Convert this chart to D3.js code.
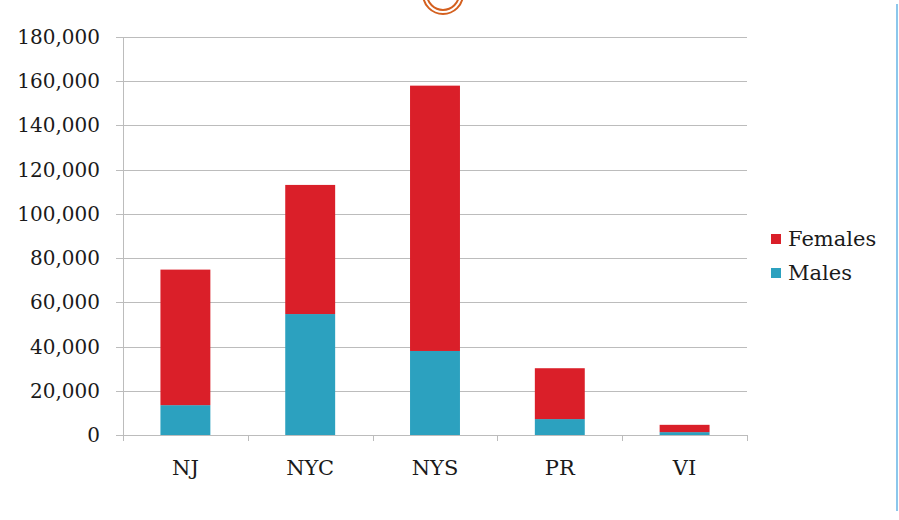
<!DOCTYPE html>
<html>
<head>
<meta charset="utf-8">
<script src="https://cdn.jsdelivr.net/npm/d3@7"></script>
<style>
  body { margin: 0; background: #fff; }
  svg { display: block; font-family: "DejaVu Serif", "Liberation Serif", serif; }
</style>
</head>
<body>
<div id="container"></div>
<script>
/**
 * DATA
 * */
const categories = ["NJ", "NYC", "NYS", "PR", "VI"];
const males = [13500, 54700, 38000, 7200, 1300];
const females = [61300, 58400, 120000, 23000, 3300];
const seriesNames = ["Males", "Females"];
const yTicks = [0, 20000, 40000, 60000, 80000, 100000, 120000, 140000, 160000, 180000];

const width = 899,
  height = 520,
  margin = { top: 37, bottom: 85, left: 123, right: 152 };

const colors = { Males: "#2ca1bf", Females: "#da1f29" };

const rows = categories.map((c, i) => ({ cat: c, Males: males[i], Females: females[i] }));
const stacked = d3.stack().keys(seriesNames)(rows);

const svg = d3.select("#container")
  .append("svg")
  .attr("width", width)
  .attr("height", height);

// decorations
svg.append("line")
  .attr("x1", 897).attr("x2", 897)
  .attr("y1", 4).attr("y2", 511)
  .attr("stroke", "#8cc7ec")
  .attr("stroke-width", 2);

const ring = svg.append("g").attr("transform", "translate(443,-6)");
ring.append("circle").attr("r", 20).attr("fill", "none").attr("stroke", "#d4601f").attr("stroke-width", 2);
ring.append("circle").attr("r", 16).attr("fill", "none").attr("stroke", "#d4601f").attr("stroke-width", 2);

const x = d3.scaleBand()
  .domain(categories)
  .range([margin.left, width - margin.right])
  .paddingInner(0.6)
  .paddingOuter(0.3);

const y = d3.scaleLinear()
  .domain([0, 180000])
  .range([height - margin.bottom, margin.top]);

// gridlines
svg.append("g")
  .selectAll("line")
  .data(yTicks)
  .join("line")
  .attr("x1", margin.left - 7)
  .attr("x2", width - margin.right)
  .attr("y1", d => Math.round(y(d)) + 0.5)
  .attr("y2", d => Math.round(y(d)) + 0.5)
  .attr("stroke", "#bcbcbc");

// y axis line
svg.append("line")
  .attr("x1", margin.left + 0.5).attr("x2", margin.left + 0.5)
  .attr("y1", y(180000)).attr("y2", y(0) + 0.5)
  .attr("stroke", "#bcbcbc");

// y labels
svg.append("g")
  .selectAll("text")
  .data(yTicks)
  .join("text")
  .attr("x", margin.left - 23)
  .attr("y", d => y(d))
  .attr("dy", "0.35em")
  .attr("text-anchor", "end")
  .attr("font-size", 20)
  .attr("fill", "#1a1a1a")
  .text(d => d3.format(",")(d));

// x category tick marks
const bounds = d3.range(categories.length + 1).map(i => margin.left + i * (width - margin.left - margin.right) / categories.length);
svg.append("g")
  .selectAll("line")
  .data(bounds)
  .join("line")
  .attr("x1", d => Math.round(d) + 0.5)
  .attr("x2", d => Math.round(d) + 0.5)
  .attr("y1", y(0))
  .attr("y2", y(0) + 6)
  .attr("stroke", "#bcbcbc");

// bars
svg.append("g")
  .selectAll("g")
  .data(stacked)
  .join("g")
  .attr("fill", d => colors[d.key])
  .selectAll("rect")
  .data(d => d)
  .join("rect")
  .attr("x", d => x(d.data.cat))
  .attr("width", x.bandwidth())
  .attr("y", d => y(d[1]))
  .attr("height", d => y(d[0]) - y(d[1]));

// x labels
svg.append("g")
  .selectAll("text")
  .data(categories)
  .join("text")
  .attr("x", d => x(d) + x.bandwidth() / 2)
  .attr("y", 475)
  .attr("text-anchor", "middle")
  .attr("font-size", 21)
  .attr("fill", "#1a1a1a")
  .text(d => d);

// legend
const legend = svg.append("g")
  .selectAll("g")
  .data(["Females", "Males"])
  .join("g")
  .attr("transform", (d, i) => `translate(771,${239 + i * 34})`);

legend.append("rect")
  .attr("x", 0).attr("y", -5)
  .attr("width", 10).attr("height", 10)
  .attr("fill", d => colors[d]);

legend.append("text")
  .attr("x", 17)
  .attr("dy", "0.35em")
  .attr("font-size", 21)
  .attr("fill", "#1a1a1a")
  .text(d => d);
</script>
</body>
</html>
